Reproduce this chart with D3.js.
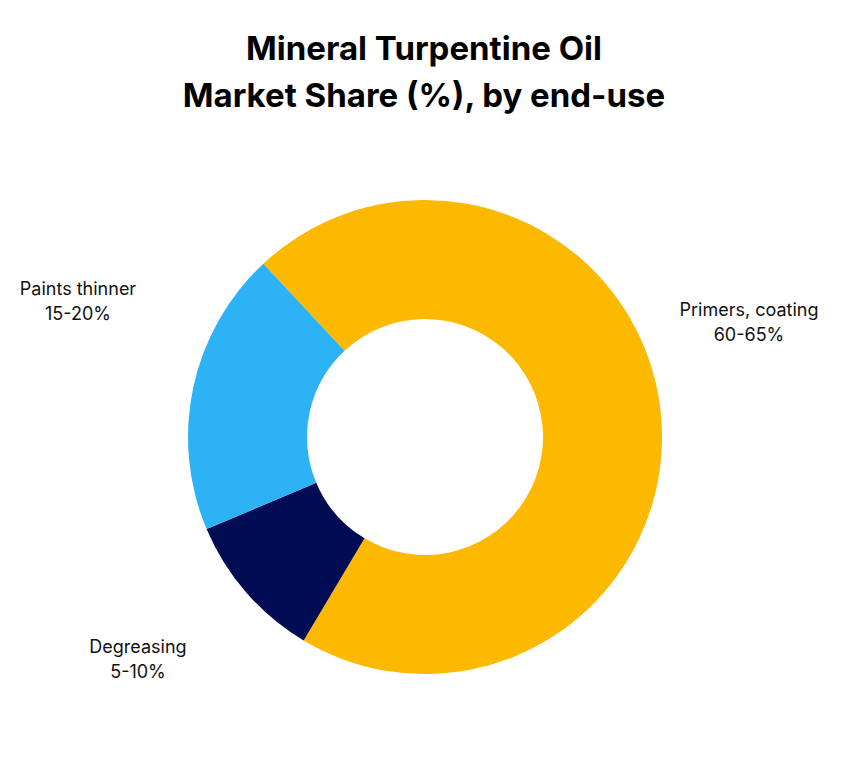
<!DOCTYPE html>
<html><head><meta charset="utf-8">
<script src="https://cdn.jsdelivr.net/npm/d3@7"></script>
<style>body{margin:0;background:#fff;font-family:Inter,"Noto Sans",sans-serif}</style>
</head><body><svg id="c" width="848" height="761"></svg>
<script>
const categories = ["Primers, coating","Degreasing","Paints thinner"];
const rangeLabels = ["60-65%","5-10%","15-20%"];
const values = [70.5, 10.1, 19.4];
const colors = ["#FDB900","#020C55","#2DB3F5"];
const labelPos = [[749,310],[138,647],[78,289]];

const svg = d3.select("#c");
svg.append("text").attr("x",424).attr("y",60).attr("text-anchor","middle")
  .attr("font-size",33).attr("font-weight",700).text("Mineral Turpentine Oil");
svg.append("text").attr("x",424).attr("y",107).attr("text-anchor","middle")
  .attr("font-size",33).attr("font-weight",700).text("Market Share (%), by end-use");

const start = -43*Math.PI/180;
const pie = d3.pie().sort(null).startAngle(start).endAngle(start+2*Math.PI)(values);
const arc = d3.arc().innerRadius(118).outerRadius(237);
const g = svg.append("g").attr("transform","translate(425,437)");
g.selectAll("path").data(pie).join("path").attr("d",arc).attr("fill",(d,i)=>colors[i]);

categories.forEach((c,i)=>{
  const t = svg.append("text").attr("text-anchor","middle").attr("font-size",18).attr("fill","#111")
    .attr("x",labelPos[i][0]).attr("y",labelPos[i][1]+6);
  t.append("tspan").attr("x",labelPos[i][0]).text(c);
  t.append("tspan").attr("x",labelPos[i][0]).attr("dy",25).text(rangeLabels[i]);
});
</script></body></html>
